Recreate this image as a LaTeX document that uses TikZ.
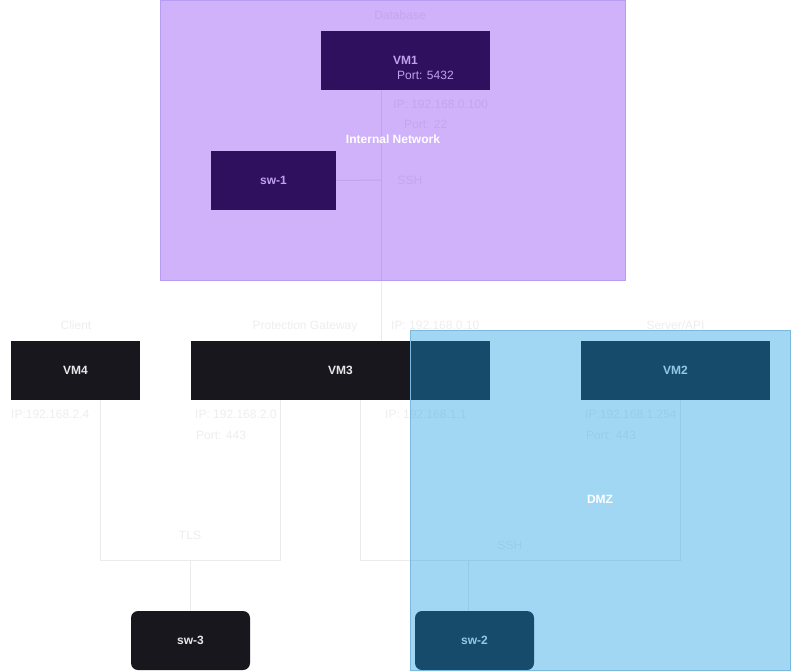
\documentclass[tikz,border=0pt]{standalone}
\usepackage{fontspec}
\setmainfont{Liberation Sans}
\usetikzlibrary{calc}
\definecolor{nodefill}{HTML}{19171E}
\definecolor{nodetext}{HTML}{E8E8E8}
\definecolor{faint}{HTML}{EEEEEE}
\definecolor{edgecol}{HTML}{EBEBEB}
\definecolor{purp}{RGB}{100,0,245}
\definecolor{purpborder}{HTML}{B69CF2}
\definecolor{dmzblue}{RGB}{22,156,225}
\definecolor{dmzborder}{HTML}{7AB8DE}
\tikzset{
  vm/.style={draw=none, fill=nodefill, text=nodetext,
    font=\fontsize{12}{15}\selectfont\bfseries, minimum height=59pt,
    inner sep=0pt, text height=8.6pt, text depth=0pt},
  swbox/.style={vm, rounded corners=7pt},
  lbl/.style={text=faint, font=\fontsize{12}{15}\selectfont, inner sep=0pt,
    text height=8.6pt, text depth=0pt},
  grplbl/.style={text=white, font=\fontsize{12}{15}\selectfont\bfseries,
    inner sep=0pt, text height=8.6pt, text depth=0pt},
  edge/.style={draw=edgecol, line width=1pt},
}
\begin{document}
\begin{tikzpicture}[x=1pt, y=-1pt]
\path[use as bounding box, fill=white] (0,0) rectangle (791,671);

% connector junctions
\coordinate (j) at (381,180);
\coordinate (t1) at (100,560);
\coordinate (t2) at (280,560);
\coordinate (t3) at (190,560);
\coordinate (s1) at (360,560);
\coordinate (s2) at (680,560);
\coordinate (s3) at (468,560);

% nodes
\node[vm, minimum width=169pt] (vm1) at (405.5,60.5) {};
\node[vm, minimum width=125pt] (sw1) at (273.5,180.5) {sw-1};
\node[vm, minimum width=129pt] (vm4) at (75.5,370.5) {VM4};
\node[vm, minimum width=299pt] (vm3) at (340.5,370.5) {VM3};
\node[vm, minimum width=189pt] (vm2) at (675.5,370.5) {VM2};
\node[swbox, minimum width=119pt] (sw3) at (190.5,640.5) {sw-3};
\node[swbox, minimum width=119pt] (sw2) at (474.5,640.5) {sw-2};
\node[anchor=west, inner sep=0pt, align=left, text=nodetext,
  font=\fontsize{12}{15}\selectfont] (vm1txt) at (393,67.5)
  {\textbf{VM1}\\\hspace*{4pt}Port: 5432};

% connectors
\draw[edge] (vm1.south -| j) -- (vm3.north -| j);
\draw[edge] (sw1.east) -- (j);
\draw[edge] (vm4.south -| t1) -- (t1) -- (t2) -- (vm3.south -| t2);
\draw[edge] (t3) -- (sw3.north -| t3);
\draw[edge] (vm3.south -| s1) -- (s1) -- (s2) -- (vm2.south -| s2);
\draw[edge] (s3) -- (sw2.north -| s3);

% faint labels
\node[lbl] (ldb) at (400,15) {Database};
\node[lbl, anchor=west] (lip100) at (393,104.5) {IP: 192.168.0.100};
\node[lbl, anchor=west] (lp22) at (404,124.5) {Port: 22};
\node[lbl] (lssh1) at (410,180) {SSH};
\node[lbl] (lclient) at (76,325) {Client};
\node[lbl] (lpg) at (305,325) {Protection Gateway};
\node[lbl, anchor=west] (lip10) at (391,325) {IP: 192.168.0.10};
\node[lbl] (lsrv) at (675.5,325) {Server/API};
\node[lbl, anchor=west] (lip24) at (11,414) {IP:192.168.2.4};
\node[lbl, anchor=west] (lip20) at (195,414) {IP: 192.168.2.0};
\node[lbl, anchor=west] (lp443a) at (196,435) {Port: 443};
\node[lbl, anchor=west] (lip11) at (385,414) {IP: 192.168.1.1};
\node[lbl, anchor=west] (lip254) at (585,414) {IP:192.168.1.254};
\node[lbl, anchor=west] (lp443b) at (586,435) {Port: 443};
\node[lbl] (ltls) at (190,535) {TLS};
\node[lbl] (lssh2) at (510,545) {SSH};

% group overlays
\fill[purp, opacity=0.3] (160,0) rectangle (626,281);
\draw[purpborder, line width=1pt] (160.5,0.5) rectangle (625.5,280.5);
\fill[dmzblue, opacity=0.395] (410,330) rectangle (791,671);
\draw[dmzborder, line width=1pt] (410.5,330.5) rectangle (790.5,670.5);

% group labels
\node[grplbl] (gint) at (393,139) {Internal Network};
\node[grplbl] (gdmz) at (600,499) {DMZ};
\end{tikzpicture}
\end{document}
